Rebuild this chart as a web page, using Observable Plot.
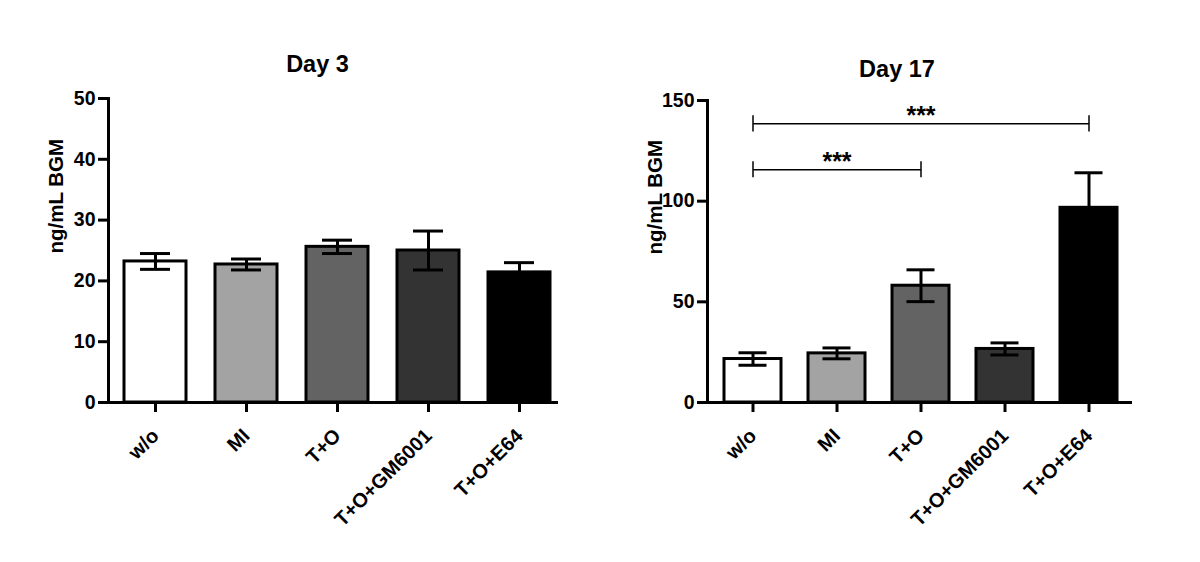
<!DOCTYPE html>
<html><head><meta charset="utf-8">
<script src="https://cdn.jsdelivr.net/npm/d3@7"></script>
<script src="https://cdn.jsdelivr.net/npm/@observablehq/plot@0.6"></script>
<style>
body{margin:0;background:#fff;}
#wrap{position:relative;width:1200px;height:562px;overflow:hidden;}
#wrap > svg{position:absolute;top:0;}
</style></head><body><div id="wrap"></div>
<script>
const groups = ["w/o","MI","T+O","T+O+GM6001","T+O+E64"];
const fills = ["#ffffff","#a3a3a3","#636363","#333333","#000000"];
const day3Mean = [23.2,22.7,25.6,25.0,21.4];
const day3Sem = [1.3,0.9,1.1,3.2,1.6];
const day17Mean = [21.6,24.4,58.0,26.6,96.7];
const day17Sem = [3.1,2.7,7.9,3.0,17.4];
const day3Ticks = [0,10,20,30,40,50];
const day17Ticks = [0,50,100,150];
const bracketFrom = ["w/o","w/o"];
const bracketTo = ["T+O","T+O+E64"];
const bracketY = [115.6,138.4];
const bracketLabel = ["***","***"];
const yLabel = "ng/mL BGM";

function panel(o){
  const rows = groups.map((g,i)=>({g, v:o.mean[i], lo:o.mean[i]-o.sem[i], hi:o.mean[i]+o.sem[i], fill:fills[i]}));
  const marks = [
    Plot.barY(rows,{x:"g",y:"v",fill:"fill",stroke:"#000",strokeWidth:3}),
    Plot.ruleX(rows,{x:"g",y1:"lo",y2:"hi",stroke:"#000",strokeWidth:3}),
    Plot.tickY(rows,{x:"g",y:"lo",stroke:"#000",strokeWidth:3,insetLeft:o.cap,insetRight:o.cap}),
    Plot.tickY(rows,{x:"g",y:"hi",stroke:"#000",strokeWidth:3,insetLeft:o.cap,insetRight:o.cap}),
    Plot.ruleY([0],{stroke:"#000",strokeWidth:3}),
    Plot.frame({anchor:"left",stroke:"#000",strokeWidth:3}),
    Plot.axisY({ticks:o.ticks,tickSize:10,tickPadding:3,strokeWidth:3,fontSize:19.5,fontWeight:"bold",label:null}),
    Plot.axisX({tickSize:10,tickPadding:20,tickRotate:-45,strokeWidth:3,fontSize:20,fontWeight:"bold",label:null}),
    Plot.text([yLabel],{frameAnchor:"left",rotate:-90,dx:-46,dy:3,lineAnchor:"bottom",fontSize:20.5,fontWeight:"bold"}),
    Plot.text([o.title],{frameAnchor:"top",dx:o.titleDx,dy:o.titleDy,fontSize:23.5,fontWeight:"bold"})
  ];
  if (o.brackets){
    const br = bracketFrom.map((f,i)=>({f,t:bracketTo[i],y:bracketY[i],lab:bracketLabel[i],
      mid:groups[(groups.indexOf(f)+groups.indexOf(bracketTo[i]))/2]}));
    marks.push(
      Plot.link(br,{x1:"f",x2:"t",y1:"y",y2:"y",stroke:"#000",strokeWidth:1.5}),
      Plot.ruleX(br,{x:"f",y1:d=>d.y-4,y2:d=>d.y+4,stroke:"#000",strokeWidth:1.5}),
      Plot.ruleX(br,{x:"t",y1:d=>d.y-4,y2:d=>d.y+4,stroke:"#000",strokeWidth:1.5}),
      Plot.text(br,{x:"mid",y:"y",text:"lab",lineAnchor:"bottom",dy:0,fontSize:25,fontWeight:"bold"})
    );
  }
  const svg = Plot.plot({
    width:600,height:562,
    marginLeft:o.marginLeft,marginRight:o.marginRight,marginTop:o.marginTop,marginBottom:160,
    style:{fontFamily:"'Liberation Sans', Arial, sans-serif",color:"#000",background:"transparent"},
    x:{domain:groups,range:o.xRange,padding:o.pad,axis:null},
    y:{domain:[0,o.yMax],axis:null},
    marks
  });
  svg.style.left = o.left + "px";
  return svg;
}
const wrap = document.getElementById("wrap");
wrap.appendChild(panel({title:"Day 3",mean:day3Mean,sem:day3Sem,yMax:50,ticks:day3Ticks,left:0,
  marginLeft:108,marginRight:42,marginTop:98,xRange:[94.1,579.3],pad:0.32,cap:16,titleDx:-16,titleDy:-43}));
wrap.appendChild(panel({title:"Day 17",mean:day17Mean,sem:day17Sem,yMax:150,ticks:day17Ticks,left:600,
  marginLeft:107,marginRight:68,marginTop:100,xRange:[94.6,545.2],pad:0.326,cap:14.5,titleDx:-23,titleDy:-40,brackets:true}));
</script></body></html>
